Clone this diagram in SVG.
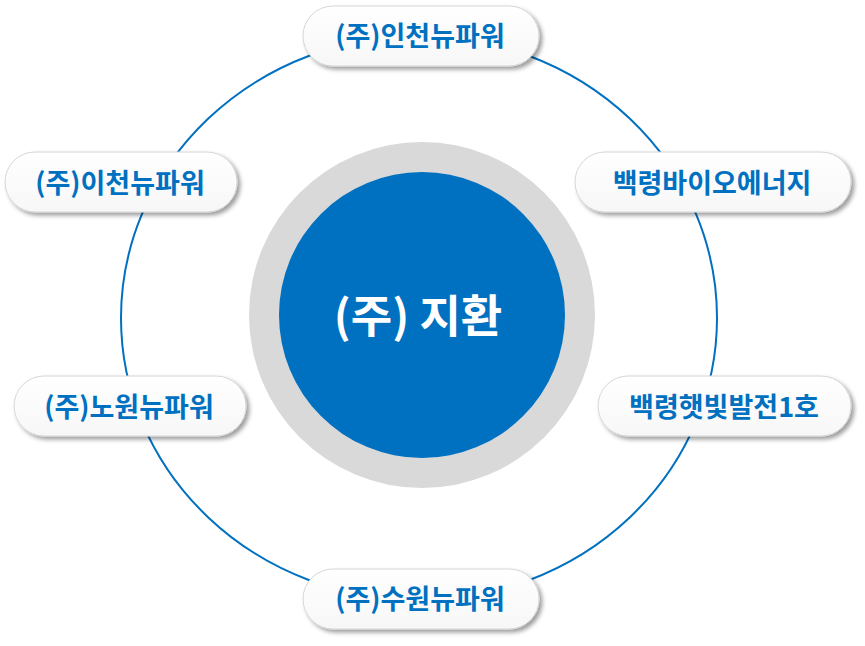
<svg xmlns="http://www.w3.org/2000/svg" width="865" height="646" viewBox="0 0 865 646">
  <defs>
    <filter id="sh" x="-10%" y="-20%" width="125%" height="150%">
      <feDropShadow dx="3" dy="3" stdDeviation="2.2" flood-color="#000" flood-opacity="0.38"/>
    </filter>
    <linearGradient id="pg" x1="0" y1="0" x2="0" y2="1">
      <stop offset="0" stop-color="#ffffff"/>
      <stop offset="1" stop-color="#f7f7f7"/>
    </linearGradient>
  </defs>
  <style>
    .pill { fill: url(#pg); stroke: #d6d6d6; stroke-width: 1; filter: url(#sh); }
    .lbl { font-family: "Noto Sans CJK KR", "Noto Sans", sans-serif; font-weight: bold; font-size: 27px; fill: #0070c0; text-anchor: middle; }
    .ring { fill: none; stroke: #0070c0; stroke-width: 2; }
  </style>
  <rect width="865" height="646" fill="#ffffff"/>
  <g id="connectors">
    <ellipse class="ring" cx="419" cy="318" rx="298" ry="282"/>
  </g>
  <g id="center">
    <circle cx="422" cy="315" r="173" fill="#d9d9d9"/>
    <circle cx="422" cy="315" r="143" fill="#0070c0"/>
    <text x="418" y="333" style="font-family: 'Noto Sans CJK KR', 'Noto Sans', sans-serif; font-weight: bold; font-size: 45px; fill: #ffffff; text-anchor: middle;">(주) 지환</text>
  </g>
  <g id="n-incheon">
    <rect class="pill" x="303" y="6" width="236" height="60" rx="30"/>
    <text class="lbl" x="420" y="46">(주)인천뉴파워</text>
  </g>
  <g id="n-baekryeong-bio">
    <rect class="pill" x="575" y="152" width="276" height="60" rx="30"/>
    <text class="lbl" x="712" y="193">백령바이오에너지</text>
  </g>
  <g id="n-icheon">
    <rect class="pill" x="5" y="152" width="232" height="60" rx="30"/>
    <text class="lbl" x="120" y="193">(주)이천뉴파워</text>
  </g>
  <g id="n-nowon">
    <rect class="pill" x="14" y="376" width="232" height="60" rx="30"/>
    <text class="lbl" x="129" y="417">(주)노원뉴파워</text>
  </g>
  <g id="n-baekryeong-solar">
    <rect class="pill" x="598" y="376" width="253" height="60" rx="30"/>
    <text class="lbl" x="724" y="417">백령햇빛발전1호</text>
  </g>
  <g id="n-suwon">
    <rect class="pill" x="303" y="569" width="236" height="60" rx="30"/>
    <text class="lbl" x="420" y="609">(주)수원뉴파워</text>
  </g>
</svg>
